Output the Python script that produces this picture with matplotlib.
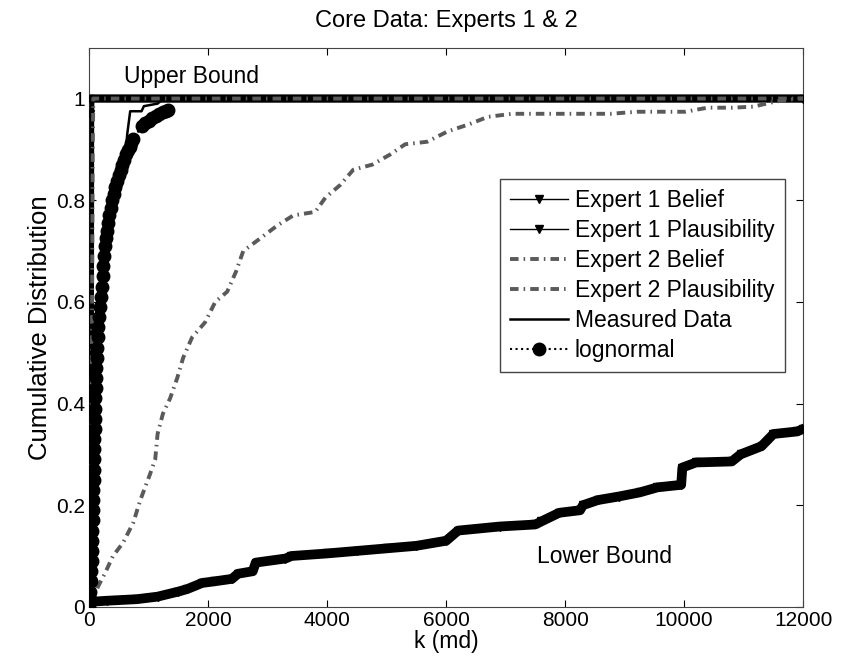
import matplotlib.pyplot as plt

plt.rcParams['font.family'] = ['Liberation Sans', 'DejaVu Sans']

# ── data ──────────────────────────────────────────────────────────────────────
e1_bel_x = [0, 40, 300, 800, 1150, 1500, 1650, 1900, 2100, 2400, 2500, 2750, 2800,
            3300, 3400, 4000, 4500, 5000, 5500, 6000, 6200, 6900, 7500, 7600, 7900,
            8250, 8300, 8550, 8900, 9250, 9550, 9950, 9970, 10200, 10800, 10950,
            11300, 11500, 11900, 12000]
e1_bel_y = [0, 0.01, 0.012, 0.015, 0.02, 0.03, 0.035, 0.047, 0.05, 0.055, 0.065, 0.07,
            0.087, 0.095, 0.1, 0.105, 0.11, 0.115, 0.12, 0.13, 0.15, 0.158, 0.162,
            0.168, 0.185, 0.19, 0.2, 0.21, 0.217, 0.225, 0.235, 0.24, 0.274, 0.284,
            0.286, 0.30, 0.316, 0.34, 0.345, 0.35]

e1_pl_x = [0, 10, 15, 20, 12000]
e1_pl_y = [0, 0.5, 0.97, 1.0, 1.0]

e2_bel_x = [0, 80, 150, 270, 400, 570, 740, 860, 1020, 1110, 1150, 1240, 1360, 1480,
            1580, 1730, 1950, 2120, 2320, 2470, 2590, 2820, 3160, 3430, 3800, 3970,
            4220, 4440, 4760, 5060, 5310, 5680, 6020, 6400, 6700, 7110, 7500, 8760,
            9210, 10020, 10390, 10810, 11160, 11530, 11920, 12000]
e2_bel_y = [0, 0.02, 0.04, 0.067, 0.10, 0.126, 0.165, 0.21, 0.26, 0.29, 0.34, 0.38,
            0.41, 0.45, 0.49, 0.53, 0.56, 0.60, 0.62, 0.66, 0.70, 0.72, 0.75, 0.77,
            0.777, 0.805, 0.83, 0.86, 0.87, 0.89, 0.91, 0.915, 0.935, 0.95, 0.964,
            0.97, 0.97, 0.97, 0.974, 0.974, 0.982, 0.982, 0.984, 0.994, 1.0, 1.0]

e2_pl_x = [0, 40, 60, 70, 12000]
e2_pl_y = [0, 0.3, 0.9, 1.0, 1.0]

meas_x = [0, 30, 60, 100, 180, 300, 450, 570, 640, 690, 880, 920, 1150, 1250]
meas_y = [0, 0.1, 0.3, 0.45, 0.6, 0.72, 0.79, 0.84, 0.93, 0.975, 0.975, 0.985, 0.99, 1.0]

logn_x = [0, 10, 20, 28, 35, 40, 45, 50, 55, 58, 62, 66, 70, 74, 78, 82, 85, 88, 92,
          96, 100, 105, 110, 115, 120, 128, 135, 145, 155, 168, 180, 195, 210, 225,
          240, 255, 270, 285, 300, 320, 340, 365, 390, 415, 440, 470, 500, 530, 560,
          590, 620, 650, 680, 710, 740, 880, 940, 1000, 1060, 1120, 1180, 1240, 1290,
          1330]
logn_y = [0, 0.015, 0.03, 0.05, 0.07, 0.09, 0.11, 0.13, 0.15, 0.17, 0.19, 0.21, 0.23,
          0.25, 0.27, 0.29, 0.31, 0.33, 0.35, 0.37, 0.39, 0.41, 0.43, 0.45, 0.47, 0.49,
          0.51, 0.53, 0.55, 0.57, 0.59, 0.61, 0.63, 0.65, 0.67, 0.69, 0.71, 0.725,
          0.74, 0.755, 0.77, 0.785, 0.80, 0.812, 0.825, 0.838, 0.85, 0.86, 0.87, 0.88,
          0.89, 0.898, 0.905, 0.912, 0.92, 0.945, 0.951, 0.956, 0.961, 0.966, 0.97,
          0.973, 0.976, 0.978]

x_ticks = [0, 2000, 4000, 6000, 8000, 10000, 12000]
y_ticks = [0, 0.2, 0.4, 0.6, 0.8, 1.0]
y_ticklabels = ['0', '0.2', '0.4', '0.6', '0.8', '1']

GRAY = '#5a5a5a'
DASHDOT = (0, (2.2, 1.3, 0.4, 1.3))

fig = plt.figure(figsize=(8.41, 6.72), dpi=100)
ax = fig.add_axes([0.106, 0.097, 0.849, 0.832])

# thick under-strokes for the dense triangle series
ax.plot(e1_bel_x, e1_bel_y, color='black', lw=7, zorder=2)
ax.plot(e1_pl_x, e1_pl_y, color='black', lw=6, zorder=2)

ax.plot(e1_bel_x, e1_bel_y, '-', color='black', lw=1, marker='v', ms=6,
        label='Expert 1 Belief', zorder=3)
ax.plot(e1_pl_x, e1_pl_y, '-', color='black', lw=1, marker='v', ms=6,
        label='Expert 1 Plausibility', zorder=3)
ax.plot(e2_bel_x, e2_bel_y, color=GRAY, lw=2.8, ls=DASHDOT,
        label='Expert 2 Belief', zorder=4)
ax.plot(e2_pl_x, e2_pl_y, color=GRAY, lw=2.8, ls=DASHDOT,
        label='Expert 2 Plausibility', zorder=4)
ax.plot(meas_x, meas_y, '-', color='black', lw=1.8,
        label='Measured Data', zorder=6)
ax.plot(logn_x, logn_y, ':', color='black', lw=1.5, marker='o', ms=9,
        label='lognormal', zorder=5)

ax.text(1715, 1.043, 'Upper Bound', ha='center', va='center', fontsize=16.5)
ax.text(8660, 0.099, 'Lower Bound', ha='center', va='center', fontsize=16.5)

ax.set_xlim(0, 12000)
ax.set_ylim(0, 1.1)
ax.set_xticks(x_ticks)
ax.set_xticklabels([str(t) for t in x_ticks])
ax.set_yticks(y_ticks)
ax.set_yticklabels(y_ticklabels)
ax.tick_params(direction='in', top=True, right=True, labelsize=15, length=5)
ax.tick_params(axis='x', pad=3)
ax.tick_params(axis='y', pad=3)
for s in ax.spines.values():
    s.set_color('#444444')

ax.set_xlabel('k (md)', fontsize=16.5, labelpad=0)
ax.set_ylabel('Cumulative Distribution', fontsize=18.5, labelpad=3)
ax.set_title('Core Data: Experts 1 & 2', fontsize=17, pad=15)

leg = ax.legend(loc='upper right', bbox_to_anchor=(0.974, 0.765), fontsize=16.5,
                fancybox=False, edgecolor='#444444', framealpha=1,
                handlelength=2.5, labelspacing=0.3, borderpad=0.45,
                handletextpad=0.3, borderaxespad=0)

plt.savefig('out.png', dpi=100, facecolor='white')
